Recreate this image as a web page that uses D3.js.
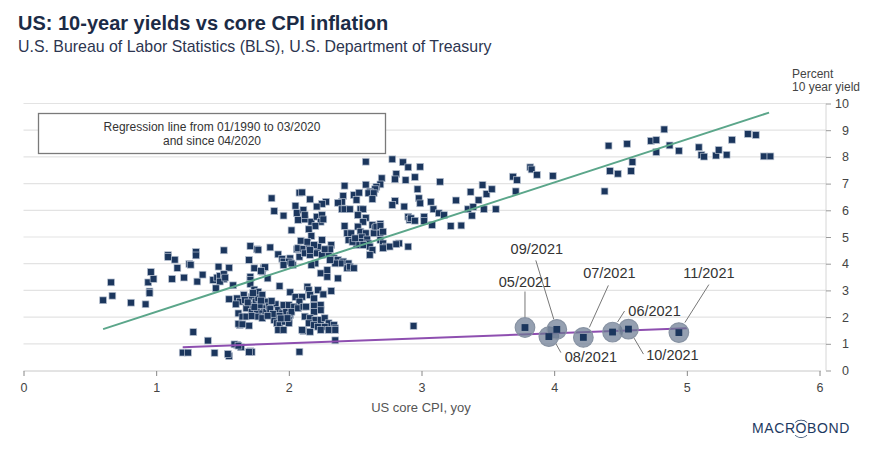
<!DOCTYPE html>
<html><head><meta charset="utf-8">
<script src="https://cdn.jsdelivr.net/npm/d3@7"></script>
<style>body{margin:0;background:#fff} svg{font-family:"Liberation Sans",Arial,sans-serif;display:block}</style>
</head><body><svg id="chart" width="880" height="449"></svg>
<script>
// ---- data ----
const cpi = [0.66,0.67,0.60,0.81,0.92,0.94,0.96,0.98,0.95,0.95,1.09,1.09,1.14,1.16,1.25,1.26,1.30,1.30,1.12,1.21,1.31,1.35,1.51,1.47,1.55,1.43,1.46,1.48,1.51,1.51,1.48,1.52,1.45,1.58,1.55,1.71,1.76,1.77,1.86,1.70,1.74,1.81,1.80,1.71,1.71,1.84,1.92,1.87,1.89,1.96,2.02,2.05,2.06,2.07,2.08,2.09,2.06,1.95,1.96,2.01,2.00,1.96,2.03,1.93,2.01,2.05,1.28,1.39,1.20,1.24,1.44,1.55,1.61,1.64,1.71,1.72,2.08,2.35,2.94,
1.82,1.79,1.71,1.74,1.77,1.61,1.63,1.60,1.66,1.67,1.70,1.72,1.75,1.77,1.80,1.82,1.81,1.68,1.72,1.76,1.80,1.83,1.62,1.65,1.68,1.72,1.63,1.70,1.77,1.80,1.90,1.92,1.95,1.98,2.01,2.02,1.96,1.89,1.91,1.93,1.97,2.00,1.92,1.96,1.59,1.62,1.54,1.70,1.73,1.78,1.74,1.79,1.69,1.85,1.86,1.88,1.84,1.87,1.93,1.94,1.62,1.65,
2.07,2.11,2.15,2.19,2.22,2.08,2.12,2.16,2.21,2.25,2.30,2.34,2.37,2.41,2.45,2.44,2.39,2.35,2.20,2.17,2.02,2.24,2.29,2.29,2.37,2.10,2.08,2.14,2.15,2.16,2.19,2.22,2.26,2.32,2.00,2.04,2.02,2.07,2.11,2.13,2.19,2.24,2.24,2.19,2.12,2.16,2.20,2.24,2.27,2.30,2.34,2.35,2.15,2.19,2.22,2.27,2.00,1.99,2.11,2.16,2.10,2.24,2.30,2.35,
2.58,2.78,2.86,2.90,2.81,2.80,2.70,2.69,2.42,2.58,2.66,2.65,2.61,2.60,2.64,2.49,2.53,2.51,2.41,2.40,2.37,2.63,2.80,2.78,2.87,2.28,2.25,2.21,2.10,2.16,2.11,2.12,2.17,2.21,2.25,2.24,2.20,2.26,2.15,2.17,2.14,2.40,2.42,2.46,2.54,2.56,2.52,2.58,2.56,2.52,2.42,2.63,2.65,2.69,2.64,2.69,2.90,2.91,2.44,2.47,2.54,2.58,2.55,2.59,2.60,2.61,2.63,2.54,2.56,2.51,2.69,2.71,2.73,2.76,2.83,2.90,2.32,2.31,2.27,2.61,2.45,2.48,2.50,2.19,2.25,2.16,2.12,2.31,2.46,2.49,
2.99,2.88,2.95,2.97,3.14,2.98,2.99,3.07,3.09,3.13,3.17,3.22,2.92,2.95,3.02,3.02,3.08,2.66,2.69,2.71,2.71,2.81,
3.30,3.26,3.35,3.38,3.39,3.43,3.46,3.49,3.47,3.53,3.56,3.37,3.69,3.72,3.71,3.82,3.83,3.87,3.99,4.38,4.41,4.42,4.48,4.55,4.58,4.59,4.73,4.77,4.83,4.77,4.87,4.94,5.09,5.11,5.13,5.22,5.24,5.30,5.34,5.46,5.52,5.58,5.63];
const yld = [3.30,2.80,2.63,2.54,2.48,3.30,3.69,3.43,2.96,2.90,4.32,4.25,4.15,3.84,3.99,3.96,4.44,4.31,3.43,3.48,3.33,3.59,4.50,3.89,3.85,3.39,3.48,3.54,3.61,3.42,3.33,3.48,3.08,3.19,2.67,4.66,4.54,4.52,4.61,4.14,3.83,3.85,3.70,3.51,3.39,3.45,4.35,6.45,5.97,5.80,5.25,6.17,5.90,5.64,6.66,4.86,4.54,4.18,4.08,4.20,4.08,3.95,3.95,3.16,2.93,2.75,1.44,1.12,0.67,0.67,0.66,0.54,0.96,0.87,0.72,0.69,0.70,1.13,1.67,
3.87,3.73,3.24,3.03,2.95,2.70,2.58,2.48,2.83,2.64,2.45,2.76,2.58,2.70,2.83,2.58,2.33,2.33,2.20,2.27,2.14,2.20,2.14,2.02,2.02,2.04,1.70,1.68,2.02,1.96,2.48,2.27,2.14,2.20,2.08,2.33,2.45,1.89,1.77,1.70,1.83,1.89,1.52,1.52,0.98,0.93,0.62,0.69,2.90,2.45,2.38,2.62,2.55,2.40,2.30,2.12,2.05,2.60,2.05,1.95,1.75,1.73,
4.58,4.55,4.60,4.64,4.64,4.26,4.39,4.33,4.39,4.33,4.39,4.20,4.14,4.08,4.01,3.83,4.01,4.01,4.01,3.95,4.01,3.64,3.76,3.51,3.45,2.76,2.58,3.14,3.01,2.83,2.70,3.01,2.85,2.98,2.45,2.39,2.20,2.33,2.39,2.39,2.43,2.45,2.26,2.20,2.02,1.96,1.89,1.89,1.96,1.77,1.70,1.58,1.77,1.70,1.64,1.64,1.77,1.96,1.48,1.45,1.52,1.52,1.52,1.52,
7.82,7.91,7.80,7.61,7.36,7.16,7.20,6.97,6.92,6.96,6.88,6.79,6.70,6.64,6.64,6.57,6.66,6.39,6.54,6.32,6.28,6.42,6.35,6.20,6.14,6.32,6.24,6.14,6.67,6.41,6.01,5.66,5.57,5.76,5.82,5.57,5.41,5.66,5.29,5.04,4.82,6.04,6.04,6.04,6.04,6.04,5.82,5.72,5.57,5.39,5.41,5.45,5.33,5.49,5.14,5.14,5.76,5.64,5.14,5.14,5.20,5.14,4.99,4.91,4.76,4.64,4.51,4.82,4.70,4.70,4.89,4.76,4.64,4.64,4.76,4.64,4.70,4.54,4.54,4.33,4.89,4.82,4.95,4.70,4.89,4.51,5.82,4.14,3.89,3.83,
7.63,7.13,7.24,6.79,7.07,6.45,6.26,6.32,6.04,5.89,5.82,5.41,5.70,5.61,5.76,5.60,5.45,5.39,5.41,5.20,4.58,4.73,
5.43,6.37,6.04,5.80,6.13,6.38,6.95,6.61,6.04,6.79,6.04,6.69,7.26,7.13,6.71,7.61,7.53,7.33,7.29,6.71,8.42,7.47,7.37,8.49,7.47,7.81,8.60,8.63,9.03,8.18,8.43,8.23,8.36,8.07,8.01,8.05,8.26,8.08,8.64,8.86,8.82,8.02,8.02];

const labelNames = ["05/2021","06/2021","07/2021","08/2021","09/2021","10/2021","11/2021"];
const labelCpi   = [3.78, 4.44, 4.22, 3.96, 4.02, 4.56, 4.94];
const labelYld   = [1.61, 1.44, 1.24, 1.27, 1.54, 1.55, 1.42];

const xTicks = [0,1,2,3,4,5,6];
const yTicks = [0,1,2,3,4,5,6,7,8,9,10];

const regPreCpi  = [0.60, 5.62];   // regression 01/1990 - 03/2020
const regPreYld  = [1.55, 9.66];
const regPostCpi = [1.20, 5.00];   // regression since 04/2020
const regPostYld = [0.87, 1.58];

const titleText = "US: 10-year yields vs core CPI inflation";
const subtitleText = "U.S. Bureau of Labor Statistics (BLS), U.S. Department of Treasury";
const legendLines = ["Regression line from 01/1990 to 03/2020", "and since 04/2020"];
const xTitle = "US core CPI, yoy";
const yTitleLines = ["Percent", "10 year yield"];

// ---- layout (positions / styles) ----
const svg = d3.select("#chart");
const x = d3.scaleLinear().domain([0,6]).range([23.5, 819.5]);
const y = d3.scaleLinear().domain([0,10]).range([370.5, 103.5]);
const navy = "#1b365d";

svg.append("text").attr("x",18).attr("y",30).attr("font-size",20).attr("font-weight","bold")
  .attr("fill","#1c2b46").text(titleText);
svg.append("text").attr("x",18).attr("y",52).attr("font-size",15.9).attr("fill","#2c3550").text(subtitleText);

// gridlines
svg.append("g").selectAll("line").data(yTicks.filter(d=>d>0)).join("line")
  .attr("x1",x(0)).attr("x2",826).attr("y1",d=>y(d)).attr("y2",d=>y(d))
  .attr("stroke","#e3e3e3").attr("stroke-width",1.2);

// right axis
const yAxis = d3.axisRight(y).tickValues(yTicks).tickSize(5).tickPadding(6).tickFormat(d3.format("d"));
const gy = svg.append("g").attr("transform","translate(826,0)").call(yAxis);
gy.select(".domain").attr("stroke","#d6d6d6").attr("d","M0,103.5V370.5");
gy.selectAll(".tick line").attr("stroke","#999");
gy.selectAll(".tick text").attr("font-size",12.5).attr("fill","#444").attr("text-anchor","end").attr("x",23)
  .attr("font-family","Liberation Sans, Arial, sans-serif");

// bottom axis
const xAxis = d3.axisBottom(x).tickValues(xTicks).tickSize(5).tickPadding(7).tickFormat(d3.format("d"));
const gx = svg.append("g").attr("transform","translate(0,371)").call(xAxis);
gx.select(".domain").attr("stroke","#c8c8c8").attr("d","M23.5,0H821");
gx.selectAll(".tick line").attr("stroke","#888");
gx.selectAll(".tick text").attr("font-size",12.5).attr("fill","#444").attr("font-family","Liberation Sans, Arial, sans-serif");

svg.append("text").attr("x",421).attr("y",412).attr("text-anchor","middle").attr("font-size",13)
  .attr("fill","#555").text(xTitle);

svg.append("g").selectAll("text").data(yTitleLines).join("text")
  .attr("x",792).attr("y",(d,i)=>78+i*13).attr("font-size",12).attr("fill","#444").text(d=>d);

// legend box
svg.append("rect").attr("x",38.5).attr("y",113.5).attr("width",347).attr("height",40)
  .attr("fill","#fff").attr("stroke","#7a7a7a").attr("stroke-width",1.3);
svg.append("g").selectAll("text").data(legendLines).join("text")
  .attr("x",212).attr("y",(d,i)=>131+i*14).attr("text-anchor","middle").attr("font-size",12)
  .attr("fill","#333").text(d=>d);

// scatter
const pts = cpi.map((c,i)=>({c, v:yld[i]}));
const sq = 6.8;
svg.append("g").selectAll("rect").data(pts).join("rect")
  .attr("x",d=>x(d.c)-sq/2).attr("y",d=>y(d.v)-sq/2).attr("width",sq).attr("height",sq)
  .attr("fill",navy).attr("stroke","#b7c1d0").attr("stroke-width",0.7);

// regression lines
const line = d3.line().x(d=>x(d[0])).y(d=>y(d[1]));
svg.append("path").attr("d",line(regPreCpi.map((c,i)=>[c,regPreYld[i]])))
  .attr("stroke","#5ba68a").attr("stroke-width",2).attr("fill","none");
svg.append("path").attr("d",line(regPostCpi.map((c,i)=>[c,regPostYld[i]])))
  .attr("stroke","#8e4fb0").attr("stroke-width",2).attr("fill","none");

// annotations
const annLayout = {
  "05/2021": {tx:0,   ty:-41, l:[0,-36, 0,-10]},
  "06/2021": {tx:42,  ty:-16, l:[12,-21, 5,-10]},
  "07/2021": {tx:26,  ty:-59, l:[25,-52, 6,-10]},
  "08/2021": {tx:42,  ty:25,  l:[7,7, 12,16]},
  "09/2021": {tx:-20, ty:-75, l:[-21,-69, -3,-10]},
  "10/2021": {tx:44,  ty:31,  l:[5,8, 15,25]},
  "11/2021": {tx:30,  ty:-55, l:[30,-48, 6,-10]}
};
const ann = labelNames.map((n,i)=>({n, c:labelCpi[i], v:labelYld[i]}));
const ga = svg.append("g");
ga.selectAll("line").data(ann).join("line")
  .attr("x1",d=>x(d.c)+annLayout[d.n].l[0]).attr("y1",d=>y(d.v)+annLayout[d.n].l[1])
  .attr("x2",d=>x(d.c)+annLayout[d.n].l[2]).attr("y2",d=>y(d.v)+annLayout[d.n].l[3])
  .attr("stroke","#777").attr("stroke-width",1);
ga.selectAll("circle").data(ann).join("circle")
  .attr("cx",d=>x(d.c)).attr("cy",d=>y(d.v)).attr("r",9.8)
  .attr("fill","rgba(104,119,144,0.7)").attr("stroke","#8893a3").attr("stroke-width",1.2);
ga.selectAll("rect").data(ann).join("rect")
  .attr("x",d=>x(d.c)-sq/2).attr("y",d=>y(d.v)-sq/2).attr("width",sq).attr("height",sq).attr("fill",navy);
ga.selectAll("text").data(ann).join("text")
  .attr("x",d=>x(d.c)+annLayout[d.n].tx).attr("y",d=>y(d.v)+annLayout[d.n].ty)
  .attr("text-anchor","middle").attr("font-size",14.5).attr("fill","#333").text(d=>d.n);

// logo
const logo = svg.append("text").attr("x",752).attr("y",433).attr("font-size",14)
  .attr("fill","#1d3a62").attr("letter-spacing",0.6).text("MACROBOND");
const ext = logo.node().getExtentOfChar(4);
const ocx = ext.x + (ext.width-0.6)/2, ocy = ext.y + ext.height/2 + 0.8;
const arc = d3.arc().innerRadius(8.4).outerRadius(9.1);
svg.append("path").attr("transform",`translate(${ocx},${ocy})`)
  .attr("d",arc({startAngle:-0.75, endAngle:0.75})).attr("fill","#1d3a62");
svg.append("path").attr("transform",`translate(${ocx},${ocy})`)
  .attr("d",arc({startAngle:Math.PI-0.75, endAngle:Math.PI+0.75})).attr("fill","#1d3a62");
</script></body></html>
